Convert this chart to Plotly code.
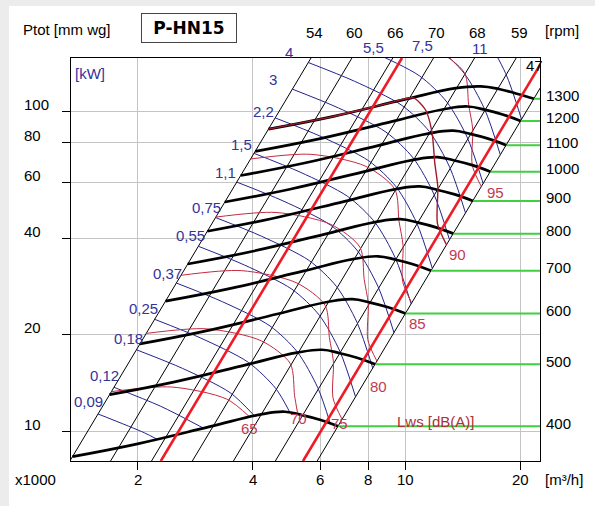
import math
import plotly.graph_objects as go

# ---------------- axis extents and ticks ----------------
flow_min, flow_max = 1.34, 22.5      # x1000 m3/h
ptot_min, ptot_max = 8.06, 146.6     # mm wg
flow_ticks = [2, 4, 6, 8, 10, 20]
flow_tick_text = ["2", "4", "6", "8", "10", "20"]
ptot_ticks = [10, 20, 40, 60, 80, 100]
ptot_tick_text = ["10", "20", "40", "60", "80", "100"]

# ---------------- fan curves (flow x1000 m3/h, Ptot mm wg) ----------------
rpm_labels = ["400", "500", "600", "700", "800", "900", "1000", "1100", "1200", "1300"]
q_400 = [1.352, 2.00, 3.088, 4.172, 4.852, 5.404, 5.988, 6.68]
p_400 = [8.32, 9.12, 10.32, 11.25, 11.49, 11.20, 10.85, 10.35]
q_500 = [1.69, 2.50, 3.86, 5.215, 6.065, 6.755, 7.485, 8.35]
p_500 = [13.0, 14.25, 16.13, 17.58, 17.95, 17.51, 16.95, 16.18]
q_600 = [2.028, 3.00, 4.632, 6.258, 7.278, 8.106, 8.982, 10.02]
p_600 = [18.72, 20.52, 23.22, 25.31, 25.85, 25.21, 24.41, 23.29]
q_700 = [2.366, 3.50, 5.404, 7.301, 8.491, 9.457, 10.479, 11.69]
p_700 = [25.48, 27.93, 31.61, 34.45, 35.18, 34.31, 33.22, 31.70]
q_800 = [2.704, 4.00, 6.176, 8.344, 9.704, 10.808, 11.976, 13.36]
p_800 = [33.28, 36.48, 41.28, 44.99, 45.95, 44.81, 43.39, 41.41]
q_900 = [3.042, 4.50, 6.948, 9.387, 10.917, 12.159, 13.473, 15.03]
p_900 = [42.12, 46.17, 52.25, 56.94, 58.16, 56.71, 54.92, 52.41]
q_1000 = [3.38, 5.00, 7.72, 10.43, 12.13, 13.51, 14.97, 16.70]
p_1000 = [52.0, 57.0, 64.5, 70.3, 71.8, 70.0, 67.8, 64.7]
q_1100 = [3.718, 5.50, 8.492, 11.473, 13.343, 14.861, 16.467, 18.37]
p_1100 = [62.92, 68.97, 78.05, 85.06, 86.88, 84.72, 82.04, 78.29]
q_1200 = [4.056, 6.00, 9.264, 12.516, 14.556, 16.212, 17.964, 20.04]
p_1200 = [74.88, 82.08, 92.88, 101.2, 103.4, 100.9, 97.63, 93.17]
q_1300 = [4.394, 6.50, 10.036, 13.559, 15.769, 17.563, 19.461, 21.71]
p_1300 = [87.88, 96.33, 109.0, 118.0, 119.5, 117.3, 113.6, 109.3]

# ---------------- efficiency lines (thin black, P ~ Q^2) ----------------
eff_labels = ["54", "60", "66", "70", "68", "59", "47"]
eff_q_bottom = [1.331, 1.70, 2.175, 2.78, 3.56, 4.58, 5.89]     # at ptot_min
eff_q_top = [5.676, 7.26, 9.28, 11.86, 15.18, 19.5, 25.1]       # at ptot_max

# ---------------- thick red limit lines ----------------
limit_q_bottom = [2.30, 5.41]
limit_q_top = [9.81, 23.07]

# ---------------- absorbed power lines (kW, blue) ----------------
kw_labels = ["0,09", "0,12", "0,18", "0,25", "0,37", "0,55", "0,75", "1,1", "1,5", "2,2", "3", "4", "5,5", "7,5", "11"]
kw_009_q = [1.576, 2.081, 2.247]
kw_009_p = [11.31, 9.88, 9.43]
kw_012_q = [1.735, 2.292, 2.973]
kw_012_p = [13.70, 11.97, 10.21]
kw_018_q = [1.986, 2.623, 3.489, 4.040]
kw_018_p = [17.95, 15.69, 13.18, 11.15]
kw_025_q = [2.216, 2.926, 3.892, 4.588, 4.993]
kw_025_p = [22.35, 19.52, 16.40, 13.60, 11.47]
kw_037_q = [2.525, 3.335, 4.436, 5.229, 5.913, 6.372]
kw_037_p = [29.02, 25.35, 21.30, 17.66, 13.65, 10.56]
kw_055_q = [2.882, 3.806, 5.063, 5.967, 6.749, 7.421]
kw_055_p = [37.81, 33.02, 27.74, 23.01, 17.78, 12.78]
kw_075_q = [3.196, 4.221, 5.614, 6.618, 7.483, 8.230]
kw_075_p = [46.50, 40.61, 34.11, 28.29, 21.87, 15.72]
kw_110_q = [3.631, 4.795, 6.379, 7.517, 8.501, 9.351]
kw_110_p = [60.01, 52.42, 44.05, 36.52, 28.23, 20.28]
kw_150_q = [4.026, 5.318, 7.072, 8.336, 9.428, 10.37]
kw_150_p = [73.81, 64.46, 54.16, 44.92, 34.71, 24.95]
kw_220_q = [4.574, 6.040, 8.035, 9.472, 10.71, 11.78]
kw_220_p = [95.28, 83.21, 69.91, 57.98, 44.81, 32.20]
kw_300_q = [5.072, 6.699, 8.911, 10.50, 11.88, 13.06]
kw_300_p = [117.2, 102.3, 85.98, 71.30, 55.10, 39.60]
kw_400_q = [5.583, 7.374, 9.808, 11.56, 13.07, 14.38]
kw_400_p = [141.9, 124.0, 104.2, 86.38, 66.76, 47.97]
kw_550_q = [6.209, 8.200, 10.91, 12.85, 14.54, 15.99]
kw_550_p = [175.5, 153.3, 128.8, 106.8, 82.54, 59.32]
kw_750_q = [6.884, 9.093, 12.09, 14.26, 16.12, 17.73]
kw_750_p = [215.9, 188.5, 158.4, 131.3, 101.5, 72.94]
kw_1100_q = [7.822, 10.33, 13.74, 16.20, 18.31, 20.14]
kw_1100_p = [278.6, 243.3, 204.4, 169.6, 131.0, 94.17]

# ---------------- sound power lines Lws dB(A) (thin red) ----------------
db_labels = ["65", "70", "75", "80", "85", "90", "95"]
db_65_q = [1.708, 2.454, 3.412, 3.928]
db_65_p = [13.28, 13.73, 12.60, 11.06]
db_70_q = [2.105, 3.025, 4.206, 5.013, 5.142, 5.232]
db_70_p = [20.19, 20.87, 19.15, 16.24, 12.90, 11.43]
db_75_q = [2.596, 3.730, 5.186, 6.181, 6.339, 6.494, 6.479, 6.845]
db_75_p = [30.68, 31.73, 29.11, 24.69, 19.60, 16.47, 12.70, 10.87]
db_80_q = [3.200, 4.600, 6.395, 7.621, 7.816, 8.006, 7.988, 8.441]
db_80_p = [46.64, 48.22, 44.25, 37.52, 29.79, 25.04, 19.30, 16.53]
db_85_q = [3.946, 5.670, 7.883, 9.395, 9.636, 9.872, 9.849, 10.41]
db_85_p = [70.87, 73.28, 67.26, 57.02, 45.29, 38.05, 29.35, 25.12]
db_90_q = [4.394, 6.50, 9.00, 10.5, 11.3, 11.75, 11.95, 12.17, 12.14, 12.83]
db_90_p = [87.88, 96.33, 105.7, 110.0, 101.0, 86.0, 68.8, 57.83, 44.61, 38.17]
db_95_q = [5.998, 8.619, 11.98, 14.28, 14.65, 15.01, 14.97, 15.82]
db_95_p = [163.8, 169.3, 155.4, 131.8, 104.6, 87.93, 67.80, 58.03]

# ---------------- colours ----------------
C_GRID = "#c4c4c4"
C_BLUE = "#23238f"
C_BLUE_TXT = "#33339a"
C_RED_THIN = "#c42a40"
C_RED_TXT = "#c23a55"
C_RED_THICK = "#ee1b26"
C_GREEN = "#3fcf3f"
FONT = "Liberation Sans, Arial, sans-serif"
FS = 15

fan_curves = [(q_400, p_400), (q_500, p_500), (q_600, p_600), (q_700, p_700), (q_800, p_800),
              (q_900, p_900), (q_1000, p_1000), (q_1100, p_1100), (q_1200, p_1200), (q_1300, p_1300)]
kw_lines = [(kw_009_q, kw_009_p), (kw_012_q, kw_012_p), (kw_018_q, kw_018_p), (kw_025_q, kw_025_p),
            (kw_037_q, kw_037_p), (kw_055_q, kw_055_p), (kw_075_q, kw_075_p), (kw_110_q, kw_110_p),
            (kw_150_q, kw_150_p), (kw_220_q, kw_220_p), (kw_300_q, kw_300_p), (kw_400_q, kw_400_p),
            (kw_550_q, kw_550_p), (kw_750_q, kw_750_p), (kw_1100_q, kw_1100_p)]
db_lines = [(db_65_q, db_65_p), (db_70_q, db_70_p), (db_75_q, db_75_p), (db_80_q, db_80_p),
            (db_85_q, db_85_p), (db_95_q, db_95_p)]

fig = go.Figure()

def add_line(x, y, color, width, shape="linear", smoothing=1.0):
    fig.add_trace(go.Scatter(x=x, y=y, mode="lines", hoverinfo="skip", showlegend=False,
                             line=dict(color=color, width=width, shape=shape, smoothing=smoothing)))

# efficiency lines
for qb, qt in zip(eff_q_bottom, eff_q_top):
    add_line([qb, qt], [ptot_min, ptot_max], "black", 1)

# power lines
for q, p in kw_lines:
    add_line(q, p, C_BLUE, 1, "spline", 0.8)

# sound lines
for q, p in db_lines:
    add_line(q, p, C_RED_THIN, 1, "spline", 0.8)

# green leaders from curve ends to the rpm scale
for q, p in fan_curves:
    add_line([q[-1], flow_max], [p[-1], p[-1]], C_GREEN, 2)

# fan curves
for q, p in fan_curves:
    add_line(q, p, "black", 2.7, "spline", 1.2)

# 90 dB(A) line, which runs along the top fan curve before turning down
add_line(db_90_q, db_90_p, "#a3182c", 1.4, "spline", 0.7)

# thick red lines
for qb, qt in zip(limit_q_bottom, limit_q_top):
    add_line([qb, qt], [ptot_min, ptot_max], C_RED_THICK, 2.6)

# ---------------- text ----------------
L, R, T, B = 71, 540, 58, 461
def pxx(x):
    return (x - L) / (R - L)
def pxy(y):
    return (B - y) / (B - T)

ann = []
def text(t, x, y, color="black", size=FS, xanchor="center", **kw):
    ann.append(dict(text=t, x=x, y=y, xref="paper", yref="paper", showarrow=False,
                    xanchor=xanchor, yanchor="middle", font=dict(family=FONT, size=size, color=color), **kw))

# axis tick labels
for v, t in zip(ptot_ticks, ptot_tick_text):
    ann.append(dict(text=t, x=pxx(22), y=math.log10(v), xref="paper", yref="y", yshift=7, showarrow=False,
                    xanchor="left", yanchor="middle", font=dict(family=FONT, size=FS, color="black")))
for v, t in zip(flow_ticks, flow_tick_text):
    ann.append(dict(text=t, x=math.log10(v), y=pxy(479), xref="x", yref="paper", showarrow=False,
                    xanchor="center", yanchor="middle", font=dict(family=FONT, size=FS, color="black")))

# rpm labels at curve ends
for (q, p), t in zip(fan_curves, rpm_labels):
    ann.append(dict(text=t, x=pxx(544), y=math.log10(p[-1]), xref="paper", yref="y", yshift=3, showarrow=False,
                    xanchor="left", yanchor="middle", font=dict(family=FONT, size=FS, color="black")))

# efficiency labels
for qt, t in zip(eff_q_top[:-1], eff_labels[:-1]):
    ann.append(dict(text=t, x=math.log10(qt), y=pxy(32), xref="x", yref="paper", xshift=3, showarrow=False,
                    xanchor="center", yanchor="middle", font=dict(family=FONT, size=FS, color="black")))
text(eff_labels[-1], pxx(534), pxy(66))

text("Ptot [mm wg]", pxx(67), pxy(29))
text("[rpm]", pxx(562), pxy(31))
text("x1000", pxx(35), pxy(479))
text("[m³/h]", pxx(564), pxy(479))
text("[kW]", pxx(90), pxy(73), C_BLUE_TXT)
ann.append(dict(text="<b>P-HN15</b>", x=pxx(189), y=pxy(28), xref="paper", yref="paper", showarrow=False,
                xanchor="center", yanchor="middle", width=92, height=26, bordercolor="#444", borderwidth=1,
                borderpad=1, bgcolor="white", font=dict(family="DejaVu Sans, sans-serif", size=17, color="black")))

# kW labels
kw_label_pos = [(88, 401), (104, 375), (128, 338), (143, 308), (167, 273), (190, 235), (206, 208),
                (225, 172), (241, 144), (263, 111), (273, 79), (289, 52), (373, 48), (422, 46), (480, 49)]
for t, (x, y) in zip(kw_labels, kw_label_pos):
    text(t, pxx(x), pxy(y), C_BLUE_TXT)

# dB labels
db_label_pos = [(249, 428), (298, 418), (339, 423), (378, 386), (417, 323), (457, 254), (495, 192)]
for t, (x, y) in zip(db_labels, db_label_pos):
    text(t, pxx(x), pxy(y), C_RED_TXT)
text("Lws [dB(A)]", pxx(436), pxy(421), "#a8323a")

# light window frame at the top and left edges of the picture
shapes = [
    dict(type="rect", xref="paper", yref="paper", x0=pxx(0), x1=pxx(9), y0=pxy(506), y1=pxy(0),
         fillcolor="#ececec", line=dict(width=0), layer="below"),
    dict(type="rect", xref="paper", yref="paper", x0=pxx(0), x1=pxx(595), y0=pxy(6), y1=pxy(0),
         fillcolor="#ececec", line=dict(width=0), layer="below"),
]

fig.update_layout(
    width=595, height=506,
    margin=dict(l=L, r=595 - R, t=T, b=506 - B),
    paper_bgcolor="white", plot_bgcolor="white",
    showlegend=False, annotations=ann, shapes=shapes,
)
fig.update_xaxes(type="log", range=[math.log10(flow_min), math.log10(flow_max)],
                 tickvals=flow_ticks, showticklabels=False, ticks="outside", ticklen=8, tickcolor="black",
                 showgrid=True, gridcolor=C_GRID, gridwidth=1, showline=True, linecolor="black", linewidth=1,
                 mirror=True, zeroline=False)
fig.update_yaxes(type="log", range=[math.log10(ptot_min), math.log10(ptot_max)],
                 tickvals=ptot_ticks, showticklabels=False, ticks="outside", ticklen=8, tickcolor="black",
                 showgrid=True, gridcolor=C_GRID, gridwidth=1, showline=True, linecolor="black", linewidth=1,
                 mirror=True, zeroline=False)

fig.write_html("out.html", config={"displayModeBar": False},
               post_script="document.body.style.margin='0';")
